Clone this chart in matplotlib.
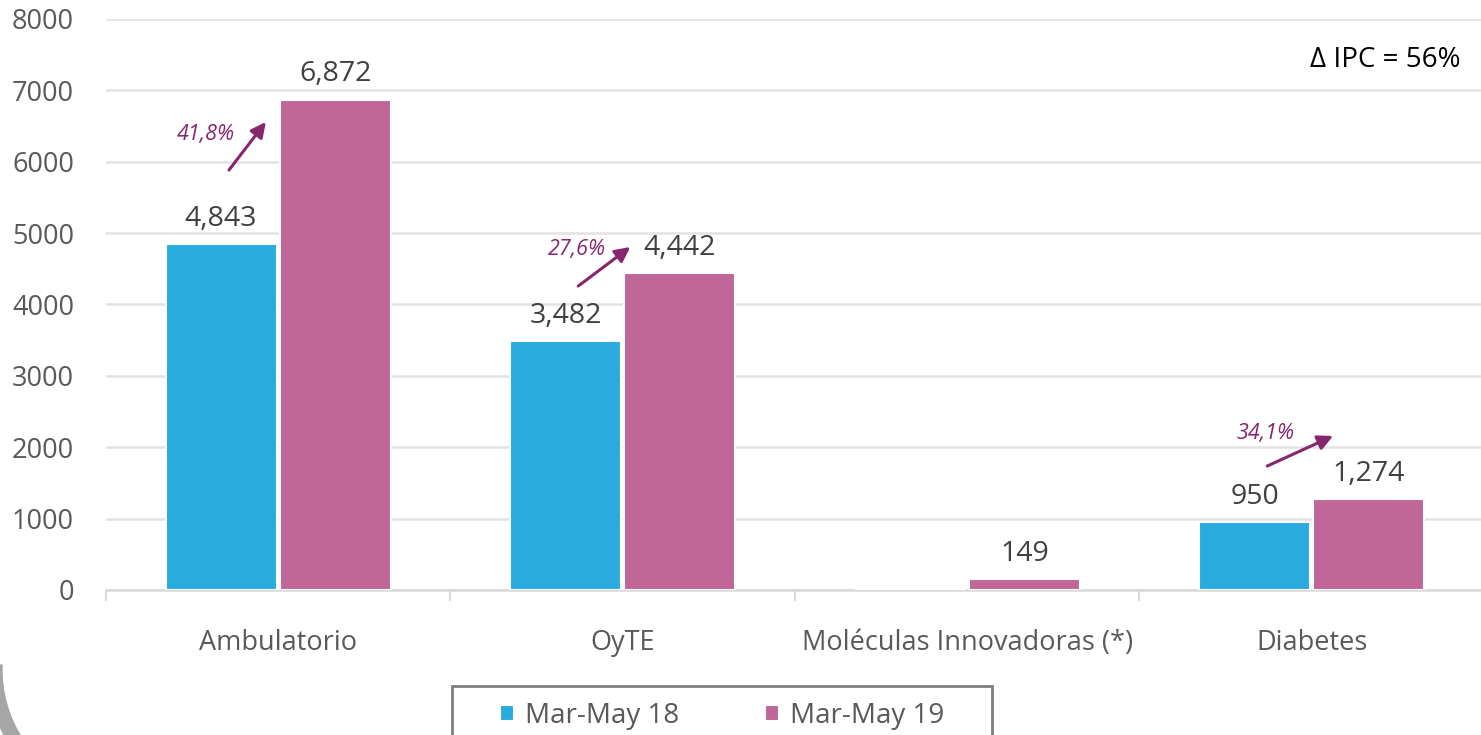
import matplotlib
matplotlib.use("Agg")
import matplotlib.pyplot as plt
from matplotlib.patches import Arc, Rectangle
import numpy as np

categories = ["Ambulatorio", "OyTE", "Moléculas Innovadoras (*)", "Diabetes"]
series_names = ["Mar-May 18", "Mar-May 19"]
vals_18 = [4843, 3482, 0, 950]
vals_19 = [6872, 4442, 149, 1274]
growth = ["41,8%", "27,6%", None, "34,1%"]
yticks = [0, 1000, 2000, 3000, 4000, 5000, 6000, 7000, 8000]
ipc_text = "\u2206 IPC = 56%"

blue = "#29ABDE"
pink = "#C06699"
purple = "#86266E"
gray_txt = "#595959"

plt.rcParams['font.family'] = ['Open Sans', 'DejaVu Sans']

W, H = 1481, 735
fig = plt.figure(figsize=(W/100, H/100), dpi=100)
ax = fig.add_axes([106/W, 145/H, 1 - 106/W + 0.002, (590-19)/H])

x = np.arange(len(categories))
w = 0.322
off = 0.166
b1 = ax.bar(x - off, vals_18, w, color=blue, edgecolor="white", linewidth=1.5, zorder=3, label=series_names[0])
b2 = ax.bar(x + off, vals_19, w, color=pink, edgecolor="white", linewidth=1.5, zorder=3, label=series_names[1])

for xs, vs in ((x - off, vals_18), (x + off, vals_19)):
    for xi, v in zip(xs, vs):
        if v > 0:
            ax.annotate(f"{v:,}", (xi, v), xytext=(0, 8), textcoords="offset points",
                        ha="center", va="bottom", fontsize=20.5, color="#404040")

# growth arrows (positioned relative to the bar pairs)
arrow_geo = {0: ((-0.143, 5884), (-0.036, 6557), (-0.21, 6375)),
             1: ((0.871, 4259), (1.022, 4806), (0.868, 4764)),
             3: ((2.871, 1737), (3.062, 2158), (2.865, 2186))}
for i, g in enumerate(growth):
    if g is None:
        continue
    s, e, t = arrow_geo[i]
    ax.annotate("", xy=e, xytext=s,
                arrowprops=dict(arrowstyle="-|>,head_length=0.9,head_width=0.45",
                                color=purple, lw=2.2, shrinkA=0, shrinkB=0), zorder=5)
    ax.text(t[0], t[1], g, ha="center", va="center", fontsize=15.5, style="italic", color=purple, zorder=5)

ax.set_xlim(-0.5, len(categories) - 0.5)
ax.set_ylim(0, 8000)
ax.set_yticks(yticks)
ax.set_yticklabels([str(v) for v in yticks], fontsize=19.5, color=gray_txt)
ax.set_xticks(x)
ax.set_xticklabels(categories, fontsize=19.5, color=gray_txt)
ax.tick_params(axis="x", length=0, pad=28)
ax.tick_params(axis="y", length=0, pad=23)
ax.set_xticks(np.arange(-0.5, len(categories), 1.0), minor=True)
ax.tick_params(axis="x", which="minor", length=8, color="#d9d9d9", width=1.5)

ax.grid(axis="y", color="#e3e3e3", linewidth=1.8, zorder=0)
ax.set_axisbelow(True)
for sp in ["top", "right", "left"]:
    ax.spines[sp].set_visible(False)
ax.spines["bottom"].set_color("#d9d9d9")
ax.spines["bottom"].set_linewidth(1.8)

fig.text(1385/W, 1 - 60/H, ipc_text, ha="center", va="center", fontsize=20, color="black")

leg = fig.legend(handles=[b1, b2], labels=series_names, loc="center",
                 bbox_to_anchor=(722/W, 1 - 716/H),
                 bbox_transform=fig.transFigure, ncol=2,
                 fontsize=20, frameon=False, handlelength=0.5,
                 handleheight=0.5, handletextpad=0.4, borderaxespad=0, borderpad=0,
                 columnspacing=3.1)
for t in leg.get_texts():
    t.set_color(gray_txt)

frame = Rectangle((452/W, 1 - 760/H), (992-452)/W, (760-686)/H, transform=fig.transFigure,
                  facecolor="none", edgecolor="#7f7f7f", linewidth=2)
fig.add_artist(frame)

# logo fragment at bottom left
arc = Arc((128/W, 1 - 670/H), 266/W, 266/H, theta1=175, theta2=260,
          transform=fig.transFigure, color="#a6a6a6", lw=11)
fig.add_artist(arc)

fig.savefig("out.png", dpi=100, facecolor="white")
